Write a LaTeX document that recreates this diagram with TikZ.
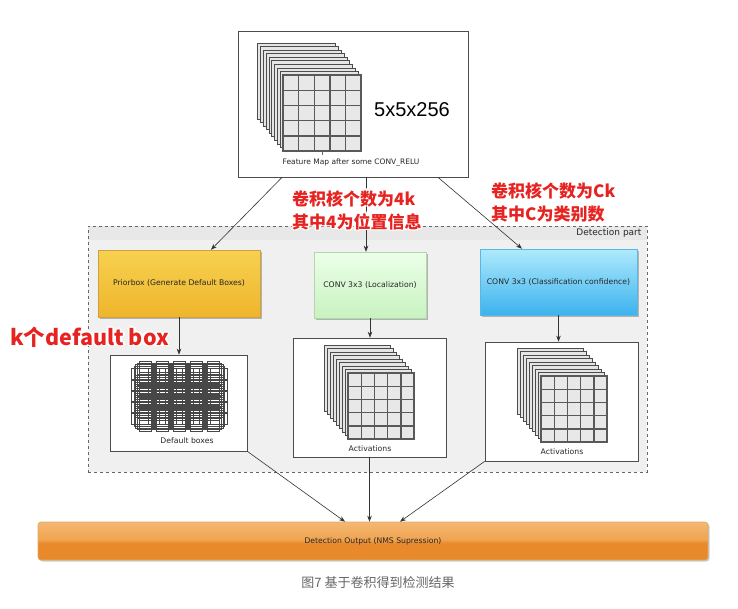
\documentclass[tikz,border=0pt]{standalone}
\usepackage{fontspec}
\setmainfont{DejaVu Sans}
\newfontfamily\cjkfont{Noto Sans CJK SC}
\newfontfamily\arialfont{Liberation Sans}
\usetikzlibrary{arrows.meta,shadows,calc}
\definecolor{barD}{HTML}{E8892C}
\definecolor{barM}{HTML}{F0A450}
\definecolor{barL}{HTML}{F7CD98}
\definecolor{barEdge}{HTML}{DEAA64}
\definecolor{redtxt}{HTML}{E62320}
\definecolor{prT}{HTML}{F7D150}
\definecolor{prB}{HTML}{EFB52C}
\definecolor{prE}{HTML}{D0A040}
\definecolor{lcT}{HTML}{ECFFE8}
\definecolor{lcB}{HTML}{C8F2C0}
\definecolor{lcE}{HTML}{B0D8A8}
\definecolor{clT}{HTML}{AEEAFC}
\definecolor{clB}{HTML}{3CB2EE}
\definecolor{clE}{HTML}{5AB8E0}
\pgfdeclareverticalshading{barshade}{100bp}{color(0bp)=(barD); color(47bp)=(barD); color(52bp)=(barM); color(100bp)=(barL)}
\tikzset{
  frame/.style={draw=black!70, line width=0.7pt, fill=white, inner sep=0pt},
  colbox/.style={inner sep=0pt, line width=0.5pt, drop shadow={shadow xshift=1.5pt, shadow yshift=-1.5pt, opacity=0.25, fill=black}},
  small/.style={font=\fontsize{7.7}{9}\selectfont, text=black!85},
  arr/.style={draw=black!80, line width=0.6pt, -{Stealth[length=6pt,width=4.5pt]}},
  layer/.style={draw=black!70, fill=black!10, line width=0.8pt},
  gridfill/.style={fill=black!9},
  gridline/.style={draw=black!65, line width=1.4pt},
  dbox/.style={draw=black!72, line width=0.45pt},
  redlbl/.style={text=redtxt, inner sep=0pt, align=left},
}
\newcommand\fmapstack[7]{%
  \foreach \i in {#5,...,1}{
    \draw[layer] ({#1-\i*#6},{#2-\i*#7}) rectangle ++(#3,#4);
  }
  \fill[gridfill] (#1,#2) rectangle ++(#3,#4);
  \foreach \k in {1,...,4}{
    \draw[gridline] ({#1+\k*#3/5},#2) -- ++(0,#4);
    \draw[gridline] (#1,{#2+\k*#4/5}) -- ++(#3,0);
  }
  \draw[gridline] (#1,#2) rectangle ++(#3,#4);
}
\newcommand\halolabel[4]{% name, position, font, text
  \foreach \a in {0,45,...,315}{
    \node[redlbl, text=white, anchor=west, font=#3] at ($(#2)+(\a:1.7)$) {#4};
  }
  \node[redlbl, anchor=west, font=#3] (#1) at (#2) {#4};
}
\begin{document}
\begin{tikzpicture}[x=1pt, y=-1pt]
\useasboundingbox (0,0) rectangle (738,608);
\fill[white] (0,0) rectangle (738,608);

% detection part region
\fill[black!6] (88,226) rectangle (647,472);
\fill[black!9] (88,226) rectangle (647,240);
\node[draw=black!60, dashed, line width=0.6pt, minimum width=559pt, minimum height=246pt, inner sep=0pt] (det) at (367.5,349) {};
\node[small, font=\fontsize{9}{10}\selectfont, anchor=east] (detlbl) at (645,233) {Detection part};

% top feature map box
\node[frame, minimum width=230pt, minimum height=146pt] (top) at (353,104) {};
\fmapstack{283}{75}{78}{76}{9}{2.8}{3.55}
\draw[draw=black!60, line width=0.6pt] (322,151) -- (322,155);
\node[font=\arialfont\fontsize{20}{22}\selectfont] (dims) at (412,110) {5x5x256};
\node[small, font=\fontsize{7.5}{9}\selectfont] (fmlbl) at (351,163) {Feature Map after some CONV\_RELU};

% coloured boxes
\node[colbox, draw=prE, top color=prT, bottom color=prB, minimum width=162pt, minimum height=67pt] (prior) at (179,283.5) {};
\node[small] at (prior) {Priorbox (Generate Default Boxes)};
\node[colbox, draw=lcE, top color=lcT, bottom color=lcB, minimum width=112pt, minimum height=66pt] (loc) at (370,285) {};
\node[small] at (loc) {CONV 3x3 (Localization)};
\node[colbox, draw=clE, top color=clT, bottom color=clB, minimum width=157pt, minimum height=66pt] (cls) at (558.5,282) {};
\node[small] at (cls) {CONV 3x3 (Classification confidence)};

% lower white boxes
\node[frame, minimum width=137pt, minimum height=96pt] (defbox) at (178.5,403) {};
\foreach \cx in {145,162,179,196,213}{
  \foreach \cy in {374,385,396,407,418}{
    \draw[dbox] ({\cx-8},{\cy-11}) rectangle ({\cx+8},{\cy+11});
    \draw[dbox] ({\cx-11},{\cy-8}) rectangle ({\cx+11},{\cy+8});
    \draw[dbox] ({\cx-14},{\cy-6}) rectangle ({\cx+14},{\cy+6});
    \draw[dbox] ({\cx-6},{\cy-13}) rectangle ({\cx+6},{\cy+13});
    \draw[dbox] ({\cx-10},{\cy-10}) rectangle ({\cx+10},{\cy+10});
  }
}
\node[small] (dblbl) at (187,441) {Default boxes};

\node[frame, minimum width=153pt, minimum height=119pt] (act1) at (369.5,397.5) {};
\fmapstack{348}{373}{66}{66}{8}{3}{3.5}
\node[small] (a1lbl) at (370,449) {Activations};

\node[frame, minimum width=153pt, minimum height=119pt] (act2) at (561.5,401.5) {};
\fmapstack{541}{376}{66}{66}{8}{3}{3.5}
\node[small] (a2lbl) at (562,452) {Activations};

% output bar
\node[draw=barEdge, line width=0.6pt, rounded corners=3pt, shading=barshade, minimum width=670pt, minimum height=38pt, inner sep=0pt, drop shadow={shadow xshift=1.5pt, shadow yshift=-1.5pt, opacity=0.2, fill=black}] (bar) at (373,541) {};
\node[small] at (bar) {Detection Output (NMS Supression)};

% arrows
\draw[arr] ([xshift=-71pt]top.south) -- ([xshift=32pt]prior.north);
\draw[arr] ([xshift=13pt]top.south) -- ([xshift=-4pt]loc.north);
\draw[arr] ([xshift=85pt]top.south) -- ([xshift=-36.5pt]cls.north);
\draw[arr] (prior.south) -- (prior.south |- defbox.north);
\draw[arr] (loc.south) -- (loc.south |- act1.north);
\draw[arr] (cls.south) -- (cls.south |- act2.north);
\draw[arr] (defbox.south east) -- ([xshift=-28pt]bar.north);
\draw[arr] (act1.south) -- (act1.south |- bar.north);
\draw[arr] (act2.south west) -- ([xshift=27pt]bar.north);

% red annotations
\halolabel{ann1}{292,210}{\cjkfont\bfseries\fontsize{17}{23}\selectfont}{卷积核个数为4k\\其中4为位置信息}
\halolabel{ann2}{491,202}{\cjkfont\bfseries\fontsize{17}{23}\selectfont}{卷积核个数为Ck\\其中C为类别数}
\halolabel{ann3}{10,337}{\cjkfont\bfseries\fontsize{21.5}{24}\selectfont}{k个default box}

% caption
\node[font=\cjkfont\fontsize{13}{15}\selectfont, text=black!60] (cap) at (378,583) {图7 基于卷积得到检测结果};
\end{tikzpicture}
\end{document}
